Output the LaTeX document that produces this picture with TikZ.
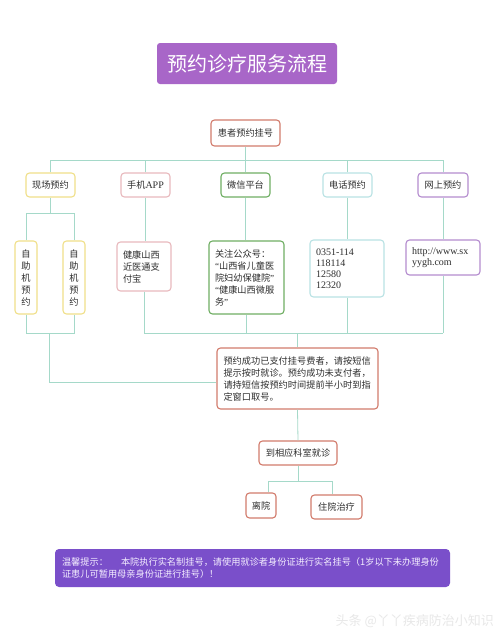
\documentclass[tikz,border=0pt]{standalone}
\usepackage{fontspec}
\setmainfont{Liberation Serif}
\newfontfamily\cjk{Noto Sans CJK SC}
\newcommand{\latn}[1]{{\rmfamily #1}}
\definecolor{lin}{HTML}{A5D9C9}
\definecolor{redb}{HTML}{D27B6C}
\definecolor{yelb}{HTML}{F0E08A}
\definecolor{pinkb}{HTML}{E8B9BD}
\definecolor{greenb}{HTML}{6FAE63}
\definecolor{cyanb}{HTML}{B9E2E4}
\definecolor{purpb}{HTML}{B48CCF}
\definecolor{titlec}{HTML}{A866C8}
\definecolor{notec}{HTML}{7A4FCA}
\definecolor{notetxt}{HTML}{F4EEFF}
\definecolor{txt}{HTML}{2E2E2E}
\definecolor{wmc}{HTML}{E8E8E8}
\begin{document}
\begin{tikzpicture}[x=1pt,y=-1pt,
  box/.style={draw, rounded corners=3.5pt, line width=1.1pt, fill=white, text=txt,
    font=\cjk\fontsize{9.2}{12}\selectfont, inner ysep=0pt},
  tbox/.style={box, align=left, inner xsep=6pt},
  conn/.style={draw=lin, line width=0.8pt}]
\useasboundingbox (0,0) rectangle (500,637);
\fill[white] (0,0) rectangle (500,637);

% title
\node[fill=titlec, rounded corners=3pt, minimum width=180pt, minimum height=41pt,
  text=white, font=\cjk\fontsize{20}{24}\selectfont] (title) at (247,63.5) {预约诊疗服务流程};

% root
\node[box, draw=redb, minimum width=69pt, minimum height=26pt] (root) at (245.5,133) {患者预约挂号};

% level 2
\node[box, draw=yelb, minimum width=49pt, minimum height=24pt] (a) at (50.5,185) {现场预约};
\node[box, draw=pinkb, minimum width=49pt, minimum height=24pt] (b) at (145.5,185) {手机\latn{\fontsize{10}{12}\selectfont APP}};
\node[box, draw=greenb, minimum width=49pt, minimum height=24pt] (c) at (245.5,185) {微信平台};
\node[box, draw=cyanb, minimum width=49pt, minimum height=24pt] (d) at (347.5,185) {电话预约};
\node[box, draw=purpb, minimum width=50pt, minimum height=24pt] (e) at (443,185) {网上预约};

% self-service
\node[box, draw=yelb, minimum width=22pt, minimum height=73pt, align=center, text width=10pt, inner xsep=6pt] (s1) at (26,277.5) {自\\助\\机\\预\\约};
\node[box, draw=yelb, minimum width=22pt, minimum height=73pt, align=center, text width=10pt, inner xsep=6pt] (s2) at (74,277.5) {自\\助\\机\\预\\约};

% level 3
\node[tbox, draw=pinkb, text width=42pt, minimum height=49pt] (b3) at (144,266.5) {健康山西\\近医通支\\付宝};
\node[tbox, draw=greenb, text width=63pt, minimum height=73pt] (c3) at (246.5,277.5)
  {关注公众号：\\\latn{“}山西省儿童医\\院妇幼保健院\latn{”}\\\latn{“}健康山西微服\\务\latn{”}};
\node[tbox, draw=cyanb, text width=62pt, minimum height=57pt, font=\rmfamily\fontsize{10}{11}\selectfont] (d3) at (347,268.5)
  {0351-114\\118114\\12580\\12320};
\node[tbox, draw=purpb, text width=62pt, minimum height=35pt, font=\rmfamily\fontsize{10}{11}\selectfont] (e3) at (443,257.5)
  {http://www.sx\\yygh.com};

% final
\node[tbox, draw=redb, text width=148pt, inner xsep=6.5pt, minimum height=61pt] (fin) at (297.5,378.5)
  {预约成功已支付挂号费者，请按短信\\提示按时就诊。预约成功未支付者，\\请持短信按预约时间提前半小时到指\\定窗口取号。};

\node[box, draw=redb, minimum width=78pt, minimum height=24pt] (ks) at (298,453) {到相应科室就诊};
\node[box, draw=redb, minimum width=30pt, minimum height=25pt, inner xsep=2pt] (ly) at (261,505.5) {离院};
\node[box, draw=redb, minimum width=51pt, minimum height=24pt] (zy) at (336.5,507) {住院治疗};

% connectors top
\coordinate (h1) at (0,160);
\draw[conn] (root.south) -- (root.south |- h1);
\draw[conn] (a.north |- h1) -- (e.north |- h1);
\foreach \n in {a,b,c,d,e} \draw[conn] (\n.north) -- (\n.north |- h1);

\coordinate (h2) at (0,213);
\draw[conn] (a.south) -- (a.south |- h2);
\draw[conn] (s1.north |- h2) -- (s2.north |- h2);
\draw[conn] (s1.north) -- (s1.north |- h2);
\draw[conn] (s2.north) -- (s2.north |- h2);

\draw[conn] (b.south) -- (b.south |- b3.north);
\draw[conn] (c.south) -- (c.south |- c3.north);
\draw[conn] (d.south) -- (d.south |- d3.north);
\draw[conn] (e.south) -- (e.south |- e3.north);

% connectors bottom
\coordinate (h3) at (0,333);
\draw[conn] (s1.south) -- (s1.south |- h3) -- (s2.south |- h3) -- (s2.south);
\coordinate (lj) at (49.5,333);
\coordinate (lk) at (49.5,382);
\draw[conn] (lj) -- (lk) -- (fin.west |- lk);
\draw[conn] (b3.south |- h3) -- (e3.south |- h3);
\foreach \n in {b3,c3,d3,e3} \draw[conn] (\n.south) -- (\n.south |- h3);
\draw[conn] (fin.north |- h3) -- (fin.north);

\draw[conn] (fin.south) -- (ks.north);
\coordinate (lb) at (268,481);
\coordinate (rb) at (332,481);
\draw[conn] (ks.south) -- (ks.south |- lb);
\draw[conn] (lb) -- (rb);
\draw[conn] (lb) -- (lb |- ly.north);
\draw[conn] (rb) -- (rb |- zy.north);

% note
\node[fill=notec, rounded corners=4pt, minimum width=395pt, minimum height=38pt, text width=381pt,
  align=left, inner xsep=7pt, inner ysep=0pt, text=notetxt, font=\cjk\fontsize{9.2}{12}\selectfont] (note) at (252.5,568)
  {温馨提示：\hspace{13pt}本院执行实名制挂号，请使用就诊者身份证进行实名挂号（1岁以下未办理身份\\证患儿可暂用母亲身份证进行挂号）！};

% watermark
\node[text=wmc, font=\cjk\fontsize{13}{13}\selectfont, anchor=east, inner sep=0pt] (wm) at (494,621) {头条 @丫丫疾病防治小知识};
\end{tikzpicture}
\end{document}
